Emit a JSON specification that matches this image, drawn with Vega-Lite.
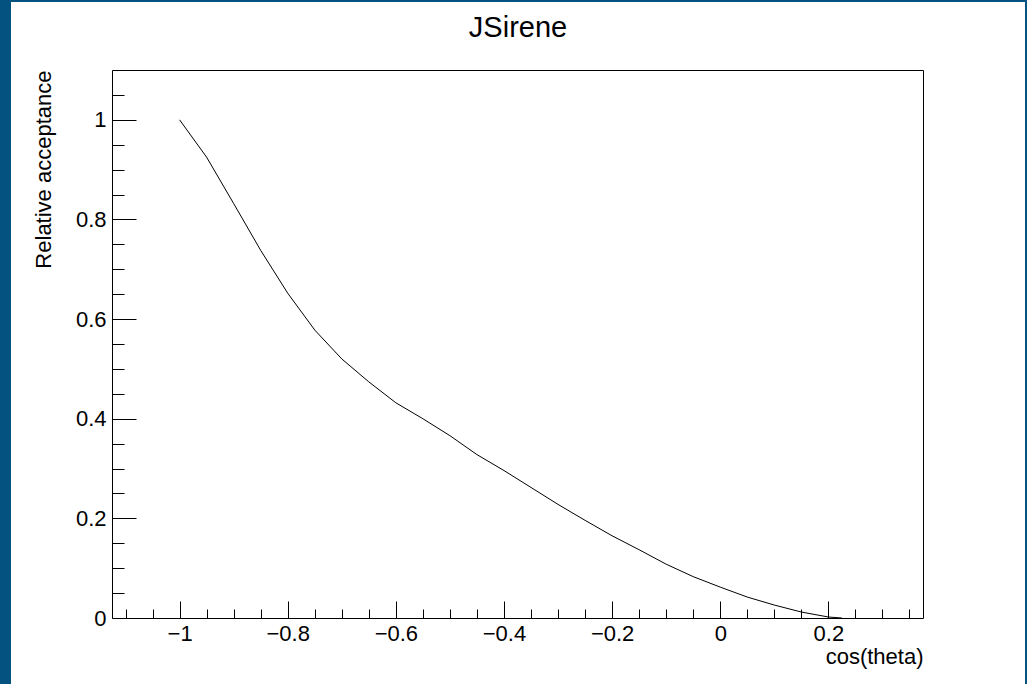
{
  "$schema": "https://vega.github.io/schema/vega-lite/v6.json",
  "autosize": "none",
  "width": 1014,
  "height": 682,
  "padding": {"left": 11, "top": 2, "right": 2, "bottom": 0},
  "background": "#03527f",
  "config": {
    "view": {"fill": "white", "stroke": null},
    "font": "Liberation Sans",
    "axis": {
      "domainColor": "black",
      "domainWidth": 1,
      "tickColor": "black",
      "tickWidth": 1,
      "grid": false,
      "labelFont": "Liberation Sans",
      "labelFontSize": 22,
      "labelColor": "black",
      "titleFont": "Liberation Sans",
      "titleFontSize": 22,
      "titleFontWeight": "normal",
      "titleColor": "black",
      "labelOverlap": false,
      "labelFlush": false,
      "labelBound": false
    }
  },
  "title": {
    "text": "JSirene",
    "font": "Liberation Sans",
    "fontSize": 29,
    "fontWeight": "normal",
    "color": "black",
    "anchor": "middle",
    "frame": "group",
    "baseline": "alphabetic",
    "offset": 0,
    "dy": 64
  },
  "data": {
    "values": [
      {"x": -1.0, "y": 1.0},
      {"x": -0.95, "y": 0.925},
      {"x": -0.9, "y": 0.832},
      {"x": -0.85, "y": 0.738},
      {"x": -0.8, "y": 0.652},
      {"x": -0.75, "y": 0.578},
      {"x": -0.7, "y": 0.52},
      {"x": -0.65, "y": 0.474},
      {"x": -0.6, "y": 0.432},
      {"x": -0.55, "y": 0.4},
      {"x": -0.5, "y": 0.366},
      {"x": -0.45, "y": 0.328},
      {"x": -0.4, "y": 0.296},
      {"x": -0.35, "y": 0.262},
      {"x": -0.3, "y": 0.228},
      {"x": -0.25, "y": 0.196},
      {"x": -0.2, "y": 0.165},
      {"x": -0.15, "y": 0.137},
      {"x": -0.1, "y": 0.108},
      {"x": -0.05, "y": 0.083},
      {"x": 0.0, "y": 0.062},
      {"x": 0.05, "y": 0.042},
      {"x": 0.1, "y": 0.026},
      {"x": 0.15, "y": 0.012},
      {"x": 0.2, "y": 0.002},
      {"x": 0.225, "y": 0.0}
    ]
  },
  "resolve": {"axis": {"x": "independent", "y": "independent"}},
  "layer": [
    {
      "mark": {"type": "line", "color": "black", "strokeWidth": 1},
      "encoding": {
        "x": {
          "field": "x",
          "type": "quantitative",
          "scale": {"domain": [-1.125, 0.375], "range": [101, 912], "nice": false, "zero": false},
          "axis": {
            "orient": "bottom",
            "offset": -66,
            "values": [-1.1, -1.05, -1.0, -0.95, -0.9, -0.85, -0.8, -0.75, -0.7, -0.65, -0.6, -0.55, -0.5, -0.45, -0.4, -0.35, -0.3, -0.25, -0.2, -0.15, -0.1, -0.05, 0, 0.05, 0.1, 0.15, 0.2, 0.25, 0.3, 0.35],
            "labelExpr": "abs(datum.value*5 - round(datum.value*5)) < 0.001 ? format(datum.value, '~g') : ''",
            "tickSize": {"condition": {"test": "abs(datum.value*5 - round(datum.value*5)) < 0.001", "value": -17}, "value": -9},
            "labelPadding": 22,
            "title": "cos(theta)",
            "titleAlign": "right",
            "titleBaseline": "alphabetic",
            "titleX": 912,
            "titleY": 45
          }
        },
        "y": {
          "field": "y",
          "type": "quantitative",
          "scale": {"domain": [0, 1.1], "range": [616, 68], "nice": false, "zero": false},
          "axis": {
            "orient": "left",
            "offset": -101,
            "values": [0, 0.05, 0.1, 0.15, 0.2, 0.25, 0.3, 0.35, 0.4, 0.45, 0.5, 0.55, 0.6, 0.65, 0.7, 0.75, 0.8, 0.85, 0.9, 0.95, 1.0, 1.05],
            "labelExpr": "abs(datum.value*5 - round(datum.value*5)) < 0.001 ? format(datum.value, '~g') : ''",
            "tickSize": {"condition": {"test": "abs(datum.value*5 - round(datum.value*5)) < 0.001", "value": -24}, "value": -12},
            "labelPadding": 30,
            "labelBaseline": "middle",
            "title": "Relative acceptance",
            "titleAngle": -90,
            "titleAlign": "right",
            "titleBaseline": "alphabetic",
            "titleX": -62,
            "titleY": 68
          }
        }
      }
    },
    {
      "mark": {"type": "line", "strokeOpacity": 0},
      "encoding": {
        "x": {
          "field": "x",
          "type": "quantitative",
          "axis": {"orient": "top", "offset": -68, "ticks": false, "labels": false, "title": null, "domainColor": "black"}
        },
        "y": {
          "field": "y",
          "type": "quantitative",
          "axis": {"orient": "right", "offset": -102, "ticks": false, "labels": false, "title": null, "domainColor": "black"}
        }
      }
    }
  ]
}
